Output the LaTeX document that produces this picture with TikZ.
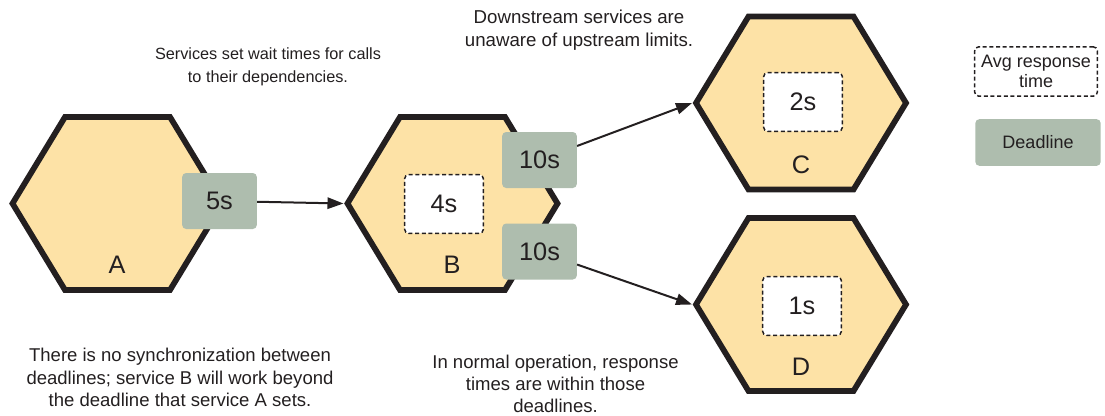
\documentclass[tikz,border=0pt]{standalone}
\usepackage{fontspec}
\setmainfont{Liberation Sans}
\usetikzlibrary{arrows.meta}
\definecolor{hexfill}{HTML}{FDE2A6}
\definecolor{dlfill}{HTML}{AEBDAE}
\definecolor{ink}{HTML}{231F20}
\newcommand\hexshape[3]{% name, cx, cy
  \draw[hexa] ({#2-105},#3) -- ({#2-52.5},{#3-86.5}) -- ({#2+52.5},{#3-86.5}) -- ({#2+105},#3) -- ({#2+52.5},{#3+86.5}) -- ({#2-52.5},{#3+86.5}) -- cycle;
  \coordinate (#1w) at ({#2-109},#3);}
\begin{document}
\begin{tikzpicture}[x=0.75pt,y=-0.75pt,
  hexa/.style={draw=ink,fill=hexfill,line width=4.3pt,line join=miter},
  deadline/.style={fill=dlfill,rounded corners=3pt,minimum width=56pt,minimum height=42pt,inner sep=0pt,text=ink,font=\fontsize{19}{22}\selectfont},
  avgbox/.style={draw=ink,fill=white,dash pattern=on 3pt off 2pt,line width=1.1pt,rounded corners=3pt,minimum width=59pt,minimum height=44pt,inner sep=0pt,text=ink,font=\fontsize{19}{22}\selectfont},
  hexlabel/.style={anchor=base,text=ink,font=\fontsize{19}{22}\selectfont},
  note/.style={align=center,text=ink,inner sep=0pt},
  conn/.style={draw=ink,line width=1.5pt,-{Triangle[length=12pt,width=8.5pt]}}]
\useasboundingbox (0,0) rectangle (1105,415);
% hexagons
\hexshape{A}{117.5}{203.5}
\hexshape{B}{452.5}{203.5}
\hexshape{C}{801}{103}
\hexshape{D}{801}{304.5}
\node[hexlabel] (la) at (117,273) {A};
\node[hexlabel] (lb) at (452,273) {B};
\node[hexlabel] (lc) at (801,173) {C};
\node[hexlabel] (ld) at (801,375) {D};
% average response boxes
\node[avgbox] (avgB) at (444,204) {4s};
\node[avgbox] (avgC) at (803,102) {2s};
\node[avgbox] (avgD) at (802,306) {1s};
% deadlines
\node[deadline] (dA) at (219.5,201) {5s};
\node[deadline] (dB1) at (539.5,160) {10s};
\node[deadline] (dB2) at (539.5,251.5) {10s};
% connectors
\draw[conn] (dA) -- (Bw);
\draw[conn] (dB1) -- (Cw);
\draw[conn] (dB2) -- (Dw);
% notes
\node[note,font=\fontsize{12.2}{17}\selectfont] (n1) at (268,67) {Services set wait times for calls\\to their dependencies.};
\node[note,font=\fontsize{14}{17.5}\selectfont] (n2) at (579,30) {Downstream services are\\unaware of upstream limits.};
\node[note,font=\fontsize{13.9}{16.9}\selectfont] (n3) at (180,377.5) {There is no synchronization between\\deadlines; service B will work beyond\\the deadline that service A sets.};
\node[note,font=\fontsize{13.9}{16.5}\selectfont] (n4) at (555.5,383.5) {In normal operation, response\\times are within those\\deadlines.};
% legend
\node[avgbox,minimum width=92pt,minimum height=37pt,align=center,font=\fontsize{13.5}{15}\selectfont] (lavg) at (1036,71.5) {Avg response\\time};
\node[deadline,minimum width=94pt,minimum height=35pt,font=\fontsize{13.5}{15}\selectfont] (ldl) at (1038,142.5) {Deadline};
\end{tikzpicture}
\end{document}
